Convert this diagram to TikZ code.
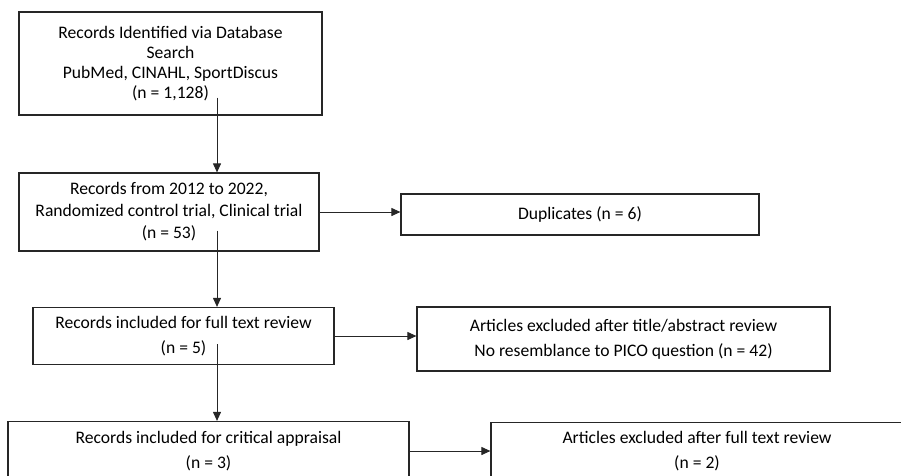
\documentclass[tikz,border=0pt]{standalone}
\usepackage{fontspec}
\setmainfont{Carlito}
\usetikzlibrary{arrows.meta}
\begin{document}
\begin{tikzpicture}[x=1pt,y=-1pt]
  \tikzstyle{every node}=[font=\fontsize{17.6}{20}\selectfont]
  \tikzstyle{box}=[draw=black!85, line width=1.2pt, align=center, inner sep=0pt]
  \tikzstyle{widebox}=[box, font=\fontsize{17.6}{25}\selectfont]
  \tikzstyle{arr}=[-{Triangle[length=9pt,width=8pt]}, line width=1pt, draw=black!85]
  \clip (0,0) rectangle (901,475);
  \coordinate (spine) at (217,0);
  \node[box, minimum width=303pt, minimum height=103pt] (search) at (170.5,63.5)
    {Records Identified via Database\\Search\\PubMed, CINAHL, SportDiscus\\(n = 1,128)};
  \node[box, font=\fontsize{17.6}{22}\selectfont, minimum width=300pt, minimum height=78pt] (filtered) at (169,212)
    {Records from 2012 to 2022,\\Randomized control trial, Clinical trial\\(n = 53)};
  \node[box, minimum width=358pt, minimum height=41pt] (dupl) at (580,214.5)
    {Duplicates (n = 6)};
  \node[widebox, minimum width=301pt, minimum height=57pt] (fulltext) at (183.5,336)
    {Records included for full text review\\(n = 5)};
  \node[widebox, minimum width=413pt, minimum height=64pt] (titleexcl) at (623.5,339)
    {Articles excluded after title/abstract review\\No resemblance to PICO question (n = 42)};
  \node[widebox, minimum width=401pt, minimum height=59pt] (appraisal) at (208.5,451)
    {Records included for critical appraisal\\(n = 3)};
  \node[widebox, minimum width=412pt, minimum height=58pt] (fullexcl) at (697,451.5)
    {Articles excluded after full text review\\(n = 2)};
  \draw[arr] ([yshift=18pt]search.south -| spine) -- (filtered.north -| spine);
  \draw[arr] ([yshift=21pt]filtered.south -| spine) -- (fulltext.north -| spine);
  \draw[arr] ([yshift=21pt]fulltext.south -| spine) -- (appraisal.north -| spine);
  \draw[arr] (filtered.east) -- (filtered.east -| dupl.west);
  \draw[arr] (fulltext.east) -- (fulltext.east -| titleexcl.west);
  \draw[arr] (appraisal.east) -- (appraisal.east -| fullexcl.west);
\end{tikzpicture}
\end{document}
